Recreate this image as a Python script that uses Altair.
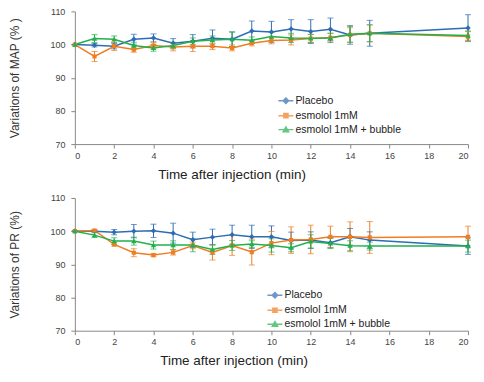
import altair as alt
import pandas as pd

times = [0, 1, 2, 3, 4, 5, 6, 7, 8, 9, 10, 11, 12, 13, 14, 15, 20]
series_names = ["Placebo", "esmolol 1mM", "esmolol 1mM + bubble"]
colors = ["#2e6db4", "#ef7d22", "#22b04b"]

# MAP panel
map_placebo = [100, 99.8, 99.5, 101.6, 102.0, 100.4, 101.0, 101.9, 101.6, 104.1, 103.8, 104.7, 103.9, 104.6, 102.9, 103.4, 105.0]
map_esmolol = [100, 96.4, 99.5, 98.5, 99.7, 99.3, 99.5, 99.5, 99.0, 100.4, 101.2, 101.4, 101.8, 102.1, 102.9, 103.4, 102.4]
map_bubble = [100, 101.8, 101.6, 99.7, 99.0, 99.7, 101.0, 101.4, 101.6, 101.3, 102.4, 102.0, 101.9, 102.0, 103.1, 103.4, 102.7]
map_placebo_err = [0, 0.5, 0.8, 1.5, 1.2, 1.4, 2.0, 2.5, 2.2, 3.0, 3.2, 2.8, 3.6, 3.4, 2.8, 3.9, 4.0]
map_esmolol_err = [0, 1.5, 1.3, 0.8, 1.0, 1.2, 1.6, 1.0, 0.9, 0.8, 1.0, 1.5, 1.2, 1.3, 2.2, 2.6, 1.5]
map_bubble_err = [0, 1.2, 1.0, 1.0, 1.0, 1.0, 1.0, 1.2, 2.2, 1.0, 1.2, 1.4, 1.2, 1.4, 2.4, 2.5, 1.4]

# PR panel
pr_placebo = [100, 100.0, 99.7, 100.0, 100.1, 99.4, 97.4, 98.2, 98.9, 98.3, 98.3, 97.2, 97.3, 96.5, 98.3, 97.3, 95.5]
pr_esmolol = [100, 100.2, 96.0, 93.5, 92.8, 93.6, 95.7, 93.6, 95.7, 93.7, 96.4, 97.3, 97.5, 98.3, 98.3, 98.1, 98.3]
pr_bubble = [100, 98.8, 97.0, 97.0, 95.8, 95.8, 95.8, 94.5, 95.7, 96.1, 95.7, 95.0, 96.9, 96.3, 95.6, 95.5, 95.5]
pr_placebo_err = [0, 0.3, 0.8, 2.0, 2.0, 3.0, 2.3, 2.4, 2.9, 3.5, 3.3, 2.5, 2.5, 1.5, 2.5, 2.5, 2.5]
pr_esmolol_err = [0, 0.3, 0.5, 1.2, 0.5, 0.8, 1.0, 2.3, 3.0, 3.9, 3.5, 4.0, 4.3, 3.2, 4.5, 4.8, 3.2]
pr_bubble_err = [0, 0.7, 1.0, 1.2, 1.2, 1.3, 2.0, 1.5, 1.5, 1.0, 2.0, 1.2, 2.0, 1.5, 1.5, 1.2, 1.8]

x_ticks = list(range(0, 21, 2))
y_ticks = [70, 80, 90, 100, 110]

# marker + legend line in one path; the line part has no area, so it only shows when stroked (legend)
shape_paths = [
    "M-1,0H1M0,-0.36L0.36,0L0,0.36L-0.36,0Z",
    "M-1,0H1M-0.28,-0.28H0.28V0.28H-0.28Z",
    "M-1,0H1M0,-0.34L0.36,0.28H-0.36Z",
]

FONT = "Liberation Sans"


def build(values, errs):
    rows = []
    for s, vals, es in zip(series_names, values, errs):
        for t, v, e in zip(times, vals, es):
            rows.append({"t": t, "v": v, "lo": v - e, "hi": v + e, "series": s})
    return pd.DataFrame(rows)


def panel(df, ytitle, lx, ly, title_x):
    xaxis = alt.Axis(values=x_ticks, title="Time after injection (min)", grid=False,
                     titleFontSize=13.5, titleFontWeight="normal", titleFont=FONT,
                     titleColor="#222", titlePadding=7, titleX=title_x,
                     labelFontSize=9, labelFont=FONT, labelColor="#444", labelOverlap=False,
                     labelPadding=3,
                     domainColor="#888", tickColor="#888", tickSize=4)
    yaxis = alt.Axis(values=y_ticks, title=ytitle, grid=False,
                     titleFontSize=12, titleFontWeight="normal", titleFont=FONT,
                     titleColor="#333", titlePadding=28,
                     labelFontSize=9, labelFont=FONT, labelColor="#444", labelOverlap=False,
                     labelPadding=6,
                     domainColor="#888", tickColor="#888", tickSize=4)
    xs = alt.Scale(domain=[0, 20], nice=False)
    ys = alt.Scale(domain=[70, 110], nice=False)
    x = alt.X("t:Q", scale=xs, axis=xaxis)
    leg = alt.Legend(title=None, orient="none", legendX=lx, legendY=ly,
                     labelFontSize=10.5, labelFont=FONT, labelColor="#222",
                     symbolSize=225, rowPadding=-2, labelOffset=1,
                     symbolStrokeWidth=1.5)
    color = alt.Color("series:N", scale=alt.Scale(domain=series_names, range=colors), legend=leg)
    stroke = alt.Stroke("series:N", scale=alt.Scale(domain=series_names, range=colors), legend=leg)
    shape = alt.Shape("series:N", scale=alt.Scale(domain=series_names, range=shape_paths), legend=leg)
    base = alt.Chart(df)
    rules = base.mark_rule(strokeWidth=1).encode(
        x=x, y=alt.Y("lo:Q", scale=ys, axis=yaxis), y2="hi:Q", color=color)
    cap_lo = base.mark_tick(thickness=1, size=6, orient="horizontal").encode(
        x=x, y=alt.Y("lo:Q", scale=ys, axis=yaxis), color=color)
    cap_hi = base.mark_tick(thickness=1, size=6, orient="horizontal").encode(
        x=x, y=alt.Y("hi:Q", scale=ys, axis=yaxis), color=color)
    line = base.mark_line(strokeWidth=1.5).encode(
        x=x, y=alt.Y("v:Q", scale=ys, axis=yaxis), color=color)
    pts = base.mark_point(filled=True, opacity=1, strokeWidth=0, size=225).encode(
        x=x, y=alt.Y("v:Q", scale=ys, axis=yaxis), color=color, stroke=stroke, shape=shape)
    return alt.layer(line, rules, cap_lo, cap_hi, pts).properties(width=394, height=133)


top = panel(build([map_placebo, map_esmolol, map_bubble],
                  [map_placebo_err, map_esmolol_err, map_bubble_err]),
            "Variations of MAP (% )", 203, 81, 157)
bottom = panel(build([pr_placebo, pr_esmolol, pr_bubble],
                     [pr_placebo_err, pr_esmolol_err, pr_bubble_err]),
               "Variations of PR (%)", 192, 89, 159)

chart = alt.vconcat(top, bottom, spacing=13).resolve_scale(
    color="independent", stroke="independent", shape="independent"
).properties(
    padding={"left": 0, "top": -1, "right": 0, "bottom": 0},
    background="white"
).configure_view(stroke=None)

chart.save("out.html", embed_options={"renderer": "svg", "actions": False})
